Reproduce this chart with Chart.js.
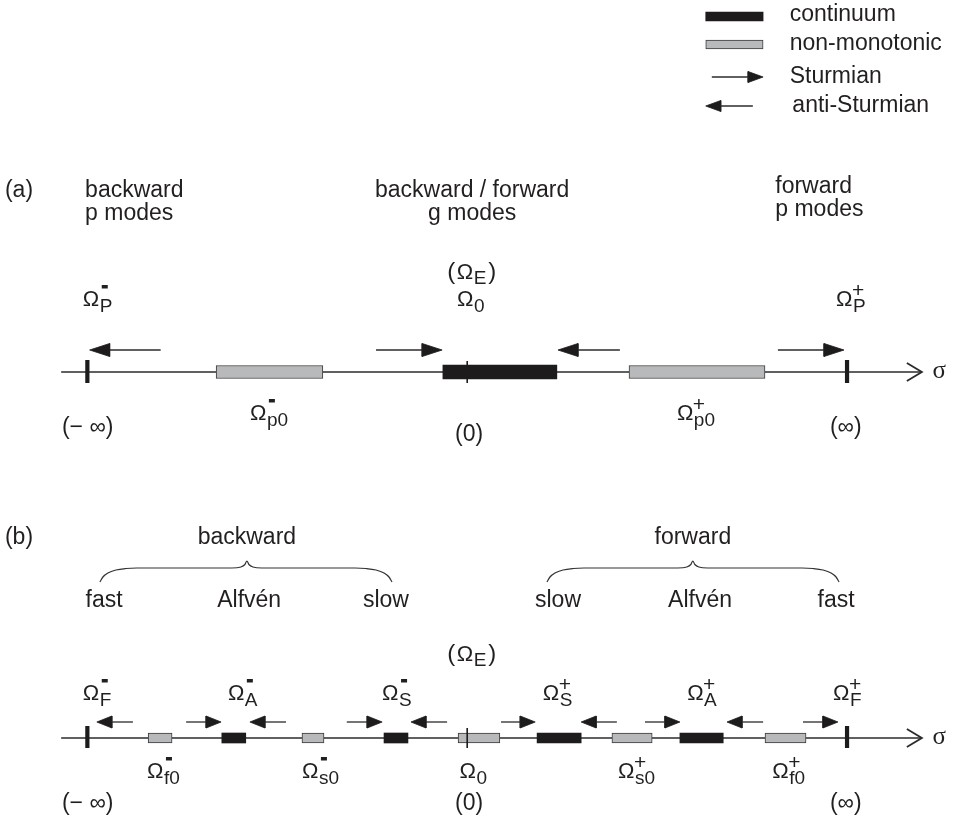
<!DOCTYPE html>
<html>
<head>
<meta charset="utf-8">
<script src="https://cdn.jsdelivr.net/npm/chart.js@4.4.0/dist/chart.umd.min.js"></script>
<style>
  body { margin: 0; background: #fff; }
  canvas { display: block; }
</style>
</head>
<body>
<canvas id="diagram" width="961" height="823"></canvas>
<script>
// sigma axis in units where the infinity ticks sit at -10 / +10
const sigmaMin = -12.3, sigmaMax = 13.0;
const axisStart = -10.69, axisTip = 11.97;
const infinities = [-10, 10];

// panel (a): [from, to] ranges and [tail, tip] arrows
const continuumA = [[-0.64, 2.36]];
const nonMonoA = [[-6.61, -3.80], [4.26, 7.84]];
const sturmA = [[-2.40, -0.66], [8.18, 9.92]];
const antiA = [[-8.07, -9.94], [4.02, 2.39]];

// panel (b)
const continuumB = [[-6.46, -5.83], [-2.19, -1.56], [1.84, 3.00], [5.60, 6.74]];
const nonMonoB = [[-8.40, -7.77], [-4.35, -3.77], [-0.24, 0.86], [3.81, 4.87], [7.84, 8.92]];
const sturmB = [[-7.40, -6.48], [-3.17, -2.24], [0.89, 1.79], [4.68, 5.60], [8.84, 9.76]];
const antiB = [[-8.80, -9.75], [-4.77, -5.72], [-0.53, -1.48], [3.94, 3.00], [7.79, 6.84]];
const bracesB = [[-9.67, -5.80, -1.98], [2.10, 5.94, 9.79]]; // left, peak, right

// legend
const legendLabels = ['continuum', 'non-monotonic', 'Sturmian', 'anti-Sturmian'];
const legendBar = [6.28, 7.79];
const legendSturm = [6.44, 7.79];
const legendAnti = [7.52, 6.28];
const legendTextAt = [8.49, 8.49, 8.49, 8.56];

// text: [text, sigma anchor, align, row]
const plainLabels = [
  ['(a)', -12.17, 'left', 'titleA'],
  ['backward', -10.06, 'left', 'titleA'],
  ['p modes', -10.06, 'left', 'subA'],
  ['backward / forward', 0.13, 'center', 'titleA'],
  ['g modes', 0.13, 'center', 'subA'],
  ['forward', 8.11, 'left', 'titleAR'],
  ['p modes', 8.11, 'left', 'subAR'],
  ['(\u2212 \u221e)', -10.67, 'left', 'limA'],
  ['(0)', -0.32, 'left', 'zeroA'],
  ['(\u221e)', 9.55, 'left', 'limA'],
  ['(b)', -12.17, 'left', 'titleB'],
  ['backward', -5.80, 'center', 'titleB'],
  ['forward', 5.94, 'center', 'titleB'],
  ['fast', -9.56, 'center', 'subB'],
  ['Alfvén', -5.74, 'center', 'subB'],
  ['slow', -2.14, 'center', 'subB'],
  ['slow', 2.39, 'center', 'subB'],
  ['Alfvén', 6.13, 'center', 'subB'],
  ['fast', 9.71, 'center', 'subB'],
  ['(\u2212 \u221e)', -10.67, 'left', 'limB'],
  ['(0)', -0.32, 'left', 'zeroB'],
  ['(\u221e)', 9.55, 'left', 'limB']
];

// Omega labels: [subscript, superscript, sigma of left edge, row]
const omegaLabels = [
  ['P', '-', -10.12, 'omegaTopA'], ['0', '', -0.27, 'omegaTopA'], ['P', '+', 9.71, 'omegaTopA'],
  ['p0', '-', -5.72, 'omegaBotA'], ['p0', '+', 5.52, 'omegaBotA'],
  ['F', '-', -10.12, 'omegaTopB'], ['A', '-', -6.30, 'omegaTopB'], ['S', '-', -2.24, 'omegaTopB'],
  ['S', '+', 1.99, 'omegaTopB'], ['A', '+', 5.79, 'omegaTopB'], ['F', '+', 9.63, 'omegaTopB'],
  ['f0', '-', -8.43, 'omegaBotB'], ['s0', '-', -4.35, 'omegaBotB'], ['0', '', -0.20, 'omegaBotB'],
  ['s0', '+', 3.97, 'omegaBotB'], ['f0', '+', 8.03, 'omegaBotB']
];
const omegaE = [[0.12, 'omegaEA'], [0.12, 'omegaEB']];

// vertical layout (y scale runs 0..823 top to bottom)
const rows = {
  legend: [16.5, 44.5, 77, 106], legendText: [21, 50, 83, 112],
  titleA: 197, subA: 220, titleAR: 193, subAR: 216,
  omegaEA: 279, omegaTopA: 306, arrowA: 350, axisA: 372, omegaBotA: 420, limA: 434, zeroA: 441,
  titleB: 544, braceB: 568, subB: 607, omegaEB: 661, omegaTopB: 700, arrowB: 722, axisB: 738,
  omegaBotB: 778, limB: 810, zeroB: 810
};

const FONT = '"Liberation Sans", Arial, Helvetica, sans-serif';
const INK = '#231f20';
const DARK = '#1d1b1c';
const GREY = '#b8b9bb';
const pxPerUnit = 961 / (sigmaMax - sigmaMin);
const px2s = px => px / pxPerUnit;

const datasets = [];

function line(pts, width, color, extra) {
  return Object.assign({
    type: 'line', data: pts, borderColor: color, borderWidth: width,
    pointRadius: 0, fill: false, tension: 0, order: 2
  }, extra || {});
}

function addArrow(tail, tip, y, len, half) {
  const dir = tip > tail ? 1 : -1;
  const back = tip - dir * px2s(len);
  datasets.push(line([{x: tail, y: y}, {x: back, y: y}], 1.3, '#2b2b2b'));
  datasets.push(line([{x: tip, y: y}, {x: back, y: y - half}, {x: back, y: y + half}, {x: tip, y: y}],
    0.8, DARK, {fill: 'shape', backgroundColor: DARK}));
}

function addBars(ranges, y, thickness, fillColor, border) {
  datasets.push({
    type: 'bar', indexAxis: 'y', grouped: false, order: 1,
    data: ranges.map(r => ({x: r, y: y})),
    barThickness: thickness,
    backgroundColor: fillColor,
    borderColor: border,
    borderWidth: border ? 1 : 0,
    borderSkipped: false
  });
}

function addAxis(y, tickUp, tickDown, zeroUp) {
  datasets.push(line([{x: axisStart, y: y}, {x: axisTip, y: y}], 1.5, '#2b2b2b'));
  datasets.push(line([{x: axisTip - px2s(15), y: y - 9}, {x: axisTip, y: y}, {x: axisTip - px2s(15), y: y + 9}],
    1.8, '#2b2b2b', {borderJoinStyle: 'miter'}));
  infinities.forEach(s => {
    datasets.push(line([{x: s, y: y - tickUp}, {x: s, y: y + tickDown}], 4.2, DARK, {order: 0}));
  });
  datasets.push(line([{x: 0, y: y - zeroUp}, {x: 0, y: y + tickDown}], 1.6, DARK, {order: 0}));
}

function addBrace(L, P, R, y) {
  const endShape = [[0, 14], [3, 9], [8, 5], [16, 2], [26, 0.5], [37, 0]];
  const midShape = [[15, 0], [6, -1], [2, -3.5], [0, -7]];
  const pts = [];
  endShape.forEach(([dx, dy]) => pts.push({x: L + px2s(dx), y: y + dy}));
  midShape.forEach(([dx, dy]) => pts.push({x: P - px2s(dx), y: y + dy}));
  midShape.slice(0, -1).reverse().forEach(([dx, dy]) => pts.push({x: P + px2s(dx), y: y + dy}));
  endShape.slice().reverse().forEach(([dx, dy]) => pts.push({x: R - px2s(dx), y: y + dy}));
  datasets.push(line(pts, 1.2, '#333', {cubicInterpolationMode: 'monotone'}));
}

// legend
addBars([legendBar], rows.legend[0], 9, DARK, null);
addBars([legendBar], rows.legend[1], 9, GREY, '#3a3a3a');
addArrow(legendSturm[0], legendSturm[1], rows.legend[2], 15, 5.5);
addArrow(legendAnti[0], legendAnti[1], rows.legend[3], 15, 5.5);

// panel (a)
addAxis(rows.axisA, 12, 11, 11);
addBars(continuumA, rows.axisA, 14, DARK, null);
addBars(nonMonoA, rows.axisA, 13, GREY, '#3a3a3a');
sturmA.forEach(a => addArrow(a[0], a[1], rows.arrowA, 20, 6.5));
antiA.forEach(a => addArrow(a[0], a[1], rows.arrowA, 20, 6.5));

// panel (b)
addAxis(rows.axisB, 12, 10, 10);
addBars(continuumB, rows.axisB, 10, DARK, null);
addBars(nonMonoB, rows.axisB, 10, GREY, '#3a3a3a');
sturmB.forEach(a => addArrow(a[0], a[1], rows.arrowB, 15, 6));
antiB.forEach(a => addArrow(a[0], a[1], rows.arrowB, 15, 6));
bracesB.forEach(b => addBrace(b[0], b[1], b[2], rows.braceB));

function drawOmega(ctx, x, y, sub, sup) {
  ctx.textAlign = 'left';
  ctx.font = '22px ' + FONT;
  ctx.fillText('\u03a9', x, y);
  const w = ctx.measureText('\u03a9').width;
  ctx.font = '19px ' + FONT;
  if (sub) ctx.fillText(sub, x + w + 0.5, y + 6);
  if (sup === '-') ctx.fillRect(x + w + 2.5, y - 21, 6, 3.5);
  if (sup === '+') {
    ctx.font = '21px ' + FONT;
    ctx.fillText('+', x + w - 0.5, y - 9);
  }
}

const textPlugin = {
  id: 'diagramText',
  afterDatasetsDraw(chart) {
    const ctx = chart.ctx;
    const X = s => chart.scales.x.getPixelForValue(s);
    const Y = r => chart.scales.y.getPixelForValue(r);
    ctx.save();
    ctx.fillStyle = INK;
    ctx.textBaseline = 'alphabetic';

    legendLabels.forEach((t, i) => {
      ctx.font = '23px ' + FONT;
      ctx.textAlign = 'left';
      ctx.fillText(t, X(legendTextAt[i]), Y(rows.legendText[i]));
    });

    plainLabels.forEach(([t, s, align, row]) => {
      ctx.font = '23px ' + FONT;
      ctx.textAlign = align;
      ctx.fillText(t, X(s), Y(rows[row]));
    });

    omegaLabels.forEach(([sub, sup, s, row]) => drawOmega(ctx, X(s), Y(rows[row]), sub, sup));

    // (Omega_E)
    omegaE.forEach(([s, row]) => {
      const y = Y(rows[row]);
      ctx.textAlign = 'left';
      ctx.font = '24px ' + FONT;
      const wp = ctx.measureText('(').width;
      ctx.font = '22px ' + FONT;
      const wo = ctx.measureText('\u03a9').width;
      ctx.font = '19px ' + FONT;
      const we = ctx.measureText('E').width;
      const total = wp * 2 + wo + we + 4;
      let x = X(s) - total / 2;
      ctx.font = '24px ' + FONT;
      ctx.fillText('(', x, y); x += wp + 1.5;
      ctx.font = '22px ' + FONT;
      ctx.fillText('\u03a9', x, y); x += wo + 0.5;
      ctx.font = '19px ' + FONT;
      ctx.fillText('E', x, y + 5); x += we + 2;
      ctx.font = '24px ' + FONT;
      ctx.fillText(')', x, y);
    });

    // sigma at the axis ends
    ctx.font = '25px "Liberation Serif", "DejaVu Serif", serif';
    ctx.textAlign = 'left';
    ctx.fillText('\u03c3', X(12.25), Y(rows.axisA + 6));
    ctx.fillText('\u03c3', X(12.25), Y(rows.axisB + 6));
    ctx.restore();
  }
};

new Chart(document.getElementById('diagram'), {
  type: 'scatter',
  data: { datasets: datasets },
  options: {
    responsive: false,
    animation: false,
    devicePixelRatio: 1,
    layout: { padding: 0 },
    plugins: { legend: { display: false }, tooltip: { enabled: false } },
    events: [],
    scales: {
      x: { type: 'linear', min: sigmaMin, max: sigmaMax, display: false, offset: false },
      y: { type: 'linear', min: 0, max: 823, reverse: true, display: false, offset: false }
    }
  },
  plugins: [textPlugin]
});
</script>
</body>
</html>
